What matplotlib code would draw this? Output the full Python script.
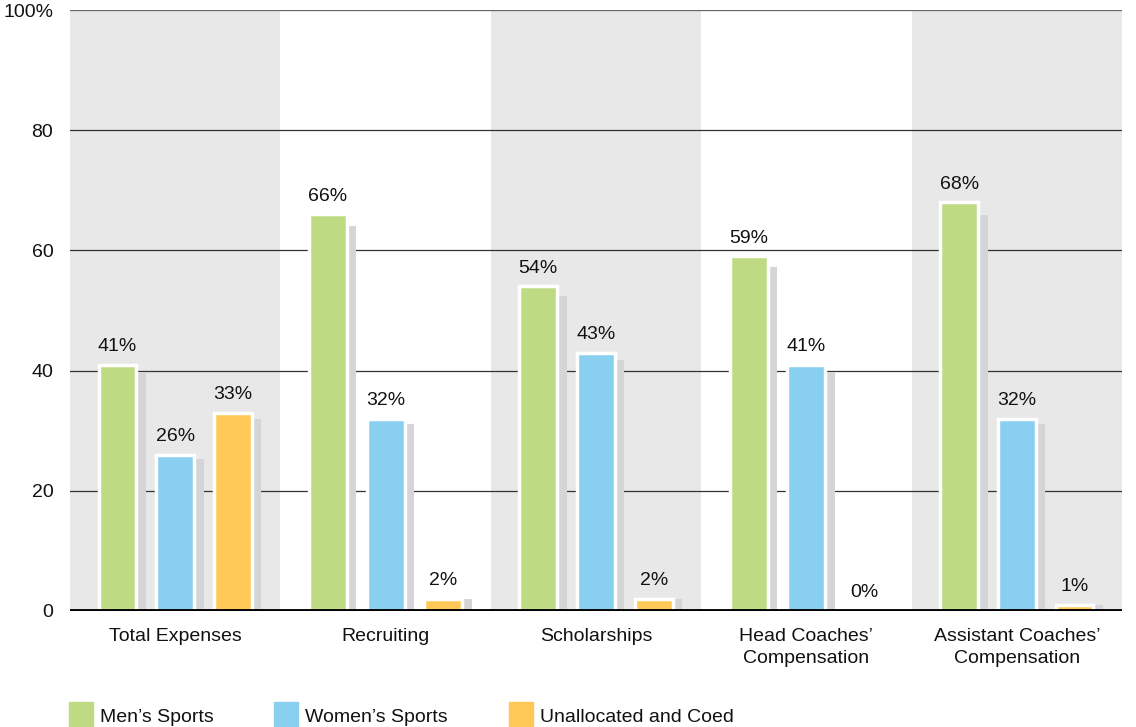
import matplotlib.pyplot as plt
import numpy as np
from matplotlib.patches import Rectangle

plt.rcParams['font.family'] = ['Liberation Sans', 'DejaVu Sans']

# data
categories = ['Total Expenses', 'Recruiting', 'Scholarships',
              'Head Coaches’\nCompensation', 'Assistant Coaches’\nCompensation']
series_names = ['Men’s Sports', 'Women’s Sports', 'Unallocated and Coed']
mens = [41, 66, 54, 59, 68]
womens = [26, 32, 43, 41, 32]
unalloc = [33, 2, 2, 0, 1]
y_ticks = [0, 20, 40, 60, 80, 100]
y_tick_labels = ['0', '20', '40', '60', '80', '100%']

colors = ['#bedb84', '#88cff0', '#ffc857']
shadow_color = '#d5d5d7'
band_color = '#e8e8e8'

fig = plt.figure(figsize=(11.36, 7.27), dpi=100)
ax = fig.add_axes([0.0616, 0.1596, 0.9261, 0.8266])

x = np.arange(len(categories))
width = 0.18
offsets = [-0.274, 0, 0.274]
shadow_dx = 0.045
shadow_scale = 0.97

# alternating background bands
for i in x:
    if i % 2 == 0:
        ax.axvspan(i - 0.5, i + 0.5, color=band_color, zorder=0, lw=0)

# grid lines
for t in y_ticks[1:]:
    ax.axhline(t, color='#333333' if t < 100 else '#666666', lw=0.9, zorder=1)
ax.axhline(0, color='black', lw=3.5, zorder=5)

for vals, off, col in zip([mens, womens, unalloc], offsets, colors):
    for xi, v in zip(x, vals):
        if v > 0:
            ax.bar(xi + off + shadow_dx, v * shadow_scale, width=width,
                   color=shadow_color, zorder=2, lw=0)
            ax.bar(xi + off, v, width=width, color=col, edgecolor='white',
                   linewidth=2.5, zorder=3)
        ax.text(xi + off, v + 1.6, f'{v}%', ha='center', va='bottom',
                fontsize=14, color='#111111', zorder=6)

ax.set_xlim(-0.5, len(categories) - 0.5)
ax.set_ylim(0, 100)
ax.set_yticks(y_ticks)
ax.set_yticklabels(y_tick_labels)
ax.set_xticks(x)
ax.set_xticklabels(categories, linespacing=1.45)
ax.tick_params(axis='both', length=0, labelsize=14, colors='#111111')
ax.tick_params(axis='x', pad=12)
ax.tick_params(axis='y', pad=12)
for s in ax.spines.values():
    s.set_visible(False)

# legend
lx = [0.0607, 0.241, 0.448]
for xx, name, col in zip(lx, series_names, colors):
    fig.patches.append(Rectangle((xx, 0.0), 0.0211, 0.034, color=col,
                                 transform=fig.transFigure, figure=fig))
    fig.text(xx + 0.0275, 0.0075, name, fontsize=14, va='baseline',
             color='#111111')

fig.savefig('out.png', dpi=100)
